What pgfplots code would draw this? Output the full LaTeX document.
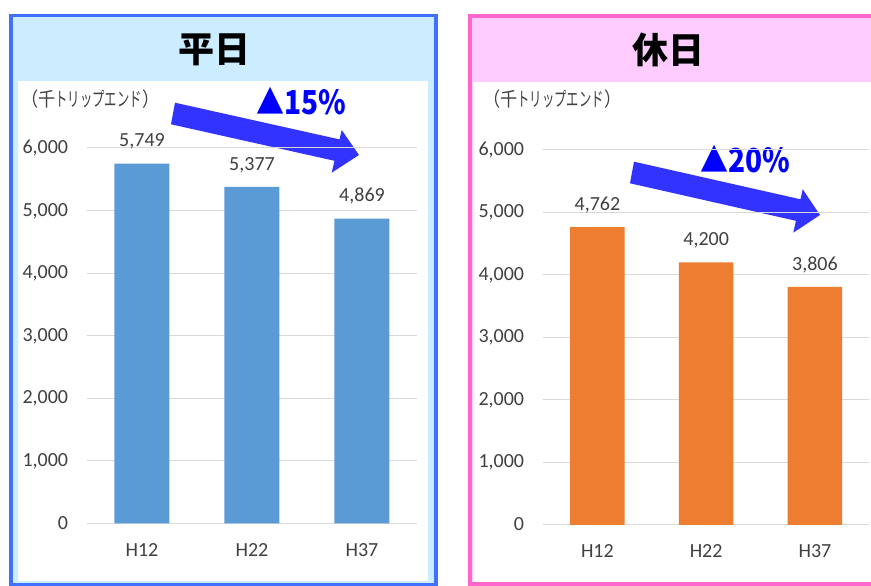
\documentclass[border=0pt]{standalone}
\usepackage{fontspec}
\setmainfont{Carlito}
\newfontfamily\jp{Noto Sans CJK JP}
\newfontfamily\jpnarrow[FakeStretch=0.85]{Noto Sans CJK JP}
\newfontfamily\jpunit[FakeStretch=0.88]{Noto Sans CJK JP}
\usepackage{graphicx}
\usepackage{pgfplots}
\pgfplotsset{compat=1.18}

\definecolor{leftborder}{RGB}{64,112,255}
\definecolor{leftfill}{RGB}{204,236,255}
\definecolor{rightborder}{RGB}{255,102,204}
\definecolor{rightfill}{RGB}{255,204,255}
\definecolor{barblue}{RGB}{91,155,213}
\definecolor{barorange}{RGB}{237,125,49}
\definecolor{gridgray}{RGB}{217,217,217}
\definecolor{arrowblue}{RGB}{51,51,255}
\definecolor{ticktext}{RGB}{64,64,64}
\definecolor{labeltext}{RGB}{64,64,64}

\newcommand{\unitlabel}{（千\scalebox{0.72}[1]{トリップエンド}）}

\pgfplotsset{
  panel/.style={
    scale only axis, anchor=south west,
    ybar, bar width=0.5,
    xmin=-0.5, xmax=2.5, ymin=0, ymax=6000,
    xtick={0,1,2}, xticklabels={H12,H22,H37},
    ytick={0,1000,...,6000},
    scaled y ticks=false,
    major tick length=0pt,
    axis line style={draw=none},
    ymajorgrids, grid style={gridgray, line width=1pt},
    /pgf/number format/.cd, 1000 sep={,}, assume math mode=true,
    /pgfplots/.cd,
    tick label style={font=\fontsize{20}{24}\selectfont, text=ticktext, inner sep=0pt},
    yticklabel style={anchor=base east, xshift=-18.7pt, yshift=-5.7pt},
    xticklabel style={anchor=base, yshift=-33pt},
    nodes near coords,
    every node near coord/.append style={font=\fontsize{20}{24}\selectfont, text=labeltext,
      anchor=base, inner sep=0pt, yshift=16.8pt},
    clip=false,
  }
}

\begin{document}
\begin{tikzpicture}
\path[use as bounding box] (0pt,0pt) rectangle (871pt,586pt);

\begin{scope}[x=1pt, y=-1pt, shift={(0pt,586pt)}]
  % panels
  \draw[leftborder, line width=3.4pt, fill=leftfill] (11,15.7) rectangle (436,584.5);
  \fill[white] (18.3,81) rectangle (427.7,580.7);
  \draw[rightborder, line width=4pt, fill=rightfill] (469.5,15.7) rectangle (900,584);
  \fill[white] (472.7,81.7) rectangle (890,581.7);

  % titles
  \node[font=\jp\bfseries\fontsize{36}{40}\selectfont, inner sep=0pt] at (214,50) {平日};
  \node[font=\jp\bfseries\fontsize{36}{40}\selectfont, inner sep=0pt] at (668,50) {休日};

  % unit labels
  \node[anchor=west, font=\jpunit\fontsize{19.5}{22}\selectfont, text=labeltext, inner sep=0pt] at (21,99) {\unitlabel};
  \node[anchor=west, font=\jpunit\fontsize{19.5}{22}\selectfont, text=labeltext, inner sep=0pt] at (483,99) {\unitlabel};

  % trend arrows
  \fill[arrowblue] (175,102.7) -- (339.5,139.4) -- (341.7,130) -- (359,155)
    -- (331.7,172.7) -- (334.5,160.8) -- (171,124.3) -- cycle;
  \fill[arrowblue] (634,161.7) -- (800.5,199.3) -- (802.7,189.3) -- (820,215)
    -- (793.3,232.7) -- (795.9,220.8) -- (630,183.3) -- cycle;

  % change labels
  \node[font=\jpnarrow\bfseries\fontsize{33}{36}\selectfont, text=blue, inner sep=0pt] at (301.3,100.8) {▲15\%};
  \node[font=\jpnarrow\bfseries\fontsize{33}{36}\selectfont, text=blue, inner sep=0pt] at (745,159.5) {▲20\%};
\end{scope}

% weekday
\begin{axis}[panel, at={(87pt,62.5pt)}, width=330pt, height=375.7pt]
  \addplot[fill=barblue, draw=none] coordinates {(0,5749) (1,5377) (2,4869)};
\end{axis}

% holiday
\begin{axis}[panel, at={(543pt,61.2pt)}, width=326.3pt, height=375pt]
  \addplot[fill=barorange, draw=none] coordinates {(0,4762) (1,4200) (2,3806)};
\end{axis}
\end{tikzpicture}
\end{document}
